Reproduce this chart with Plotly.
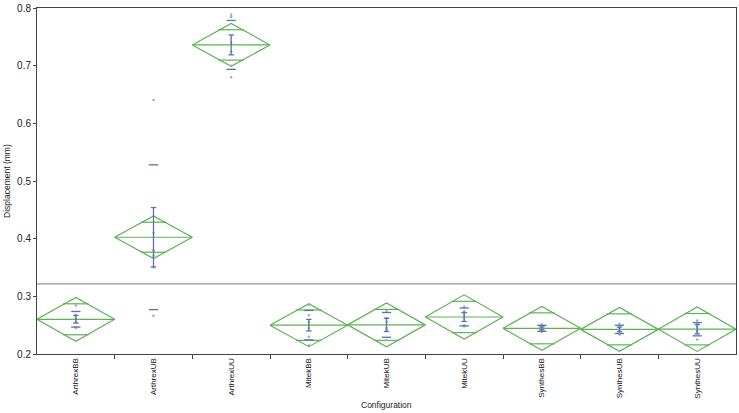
import plotly.graph_objects as go
import math

categories = ["ArthrexBB", "ArthrexUB", "ArthrexUU", "MitekBB", "MitekUB",
              "MitekUU", "SynthesBB", "SynthesUB", "SynthesUU"]
means = [0.2602, 0.4025, 0.7360, 0.2500, 0.2505, 0.2642, 0.2445, 0.2427, 0.2430]
ci_half = [0.0380, 0.0368, 0.0372, 0.0373, 0.0380, 0.0384, 0.0380, 0.0380, 0.0385]
sd = [0.0135, 0.1255, 0.0424, 0.0255, 0.0215, 0.0155, 0.0052, 0.0072, 0.0115]
se = [0.0066, 0.0515, 0.0172, 0.0100, 0.0115, 0.0077, 0.0025, 0.0040, 0.0080]
points = [
    [0.284, 0.268, 0.262, 0.256, 0.246, 0.245],
    [0.6405, 0.41, 0.38, 0.37, 0.35, 0.2665],
    [0.7885, 0.7845, 0.74, 0.725, 0.70, 0.6797],
    [0.285, 0.267, 0.255, 0.245, 0.2297, 0.215],
    [0.2745, 0.262, 0.256, 0.245, 0.242, 0.224],
    [0.282, 0.274, 0.268, 0.262, 0.250, 0.248],
    [0.251, 0.248, 0.245, 0.244, 0.241, 0.238],
    [0.252, 0.247, 0.243, 0.241, 0.239, 0.234],
    [0.258, 0.252, 0.247, 0.240, 0.236, 0.225],
]
grand_mean = 0.3215
y_ticks = [0.2, 0.3, 0.4, 0.5, 0.6, 0.7, 0.8]

GREEN = "rgb(92,178,82)"
BLUE = "rgb(86,114,176)"
GRAY = "rgb(150,150,150)"

fig = go.Figure()

# diamonds
dx, dy = [], []
for i, (m, c) in enumerate(zip(means, ci_half)):
    dx += [i - 0.5, i, i + 0.5, i, i - 0.5, None, i - 0.5, i + 0.5, None]
    dy += [m, m + c, m, m - c, m, None, m, m, None]
    k = 1 / math.sqrt(2)
    hw = 0.5 * (1 - k) * 1.12
    for s in (1, -1):
        dx += [i - hw, i + hw, None]
        dy += [m + s * c * k, m + s * c * k, None]
fig.add_trace(go.Scatter(x=dx, y=dy, mode="lines", line=dict(color=GREEN, width=1.2),
                         hoverinfo="skip", showlegend=False))

# grand mean line
fig.add_trace(go.Scatter(x=[-0.5, len(categories) - 0.5], y=[grand_mean, grand_mean],
                         mode="lines", line=dict(color=GRAY, width=1.2),
                         hoverinfo="skip", showlegend=False))

# points
px, py = [], []
for i, pts in enumerate(points):
    px += [i] * len(pts)
    py += pts
fig.add_trace(go.Scatter(x=px, y=py, mode="markers",
                         marker=dict(color="rgb(165,170,185)", size=2.5),
                         hoverinfo="skip", showlegend=False))

# std dev lines and error bars
bx, by = [], []
for i, (m, s, e) in enumerate(zip(means, sd, se)):
    for v in (m + s, m - s):
        bx += [i - 0.06, i + 0.06, None]
        by += [v, v, None]
    bx += [i, i, None, i - 0.035, i + 0.035, None, i - 0.035, i + 0.035, None]
    by += [m - e, m + e, None, m + e, m + e, None, m - e, m - e, None]
fig.add_trace(go.Scatter(x=bx, y=by, mode="lines", line=dict(color=BLUE, width=1.3),
                         hoverinfo="skip", showlegend=False))

# invisible trace for boundary tick axis
fig.add_trace(go.Scatter(x=[-0.5], y=[0.5], xaxis="x2", mode="markers",
                         marker=dict(opacity=0), hoverinfo="skip", showlegend=False))

n = len(categories)
fig.update_layout(
    width=739, height=413,
    margin=dict(l=37, r=2, t=5, b=59),
    paper_bgcolor="white", plot_bgcolor="white",
    font=dict(family="Liberation Sans, Arial, sans-serif", size=10, color="#222"),
    xaxis=dict(range=[-0.5, n - 0.5], tickmode="array", tickvals=list(range(n)),
               ticktext=categories, tickangle=-90, ticks="", showgrid=False,
               zeroline=False, showline=True, linecolor="#444", linewidth=1,
               mirror=True, tickfont=dict(size=8, color="#111")),
    xaxis2=dict(range=[-0.5, n - 0.5], overlaying="x", side="bottom",
                tickmode="array", tickvals=[i + 0.5 for i in range(n - 1)],
                ticks="outside", ticklen=4, tickcolor="#444", showticklabels=False,
                showgrid=False, zeroline=False, showline=False),
    yaxis=dict(range=[0.2, 0.8], tickmode="array", tickvals=y_ticks,
               ticktext=[f"{v:.1f}" for v in y_ticks], ticks="outside", ticklen=3,
               tickcolor="#444", showgrid=False, zeroline=False, showline=True,
               linecolor="#444", linewidth=1, mirror=True, tickfont=dict(size=10),
               ticklabeloverflow="allow"),
    annotations=[
        dict(text="Displacement (mm)", xref="paper", yref="paper", x=-0.043, y=0.5,
             textangle=-90, showarrow=False, xanchor="center", yanchor="middle",
             font=dict(size=8.5)),
        dict(text="Configuration", xref="paper", yref="paper", x=0.5, y=-0.146,
             showarrow=False, xanchor="center", yanchor="middle", font=dict(size=8.5)),
    ],
)

fig.write_html("out.html", config={"displayModeBar": False},
               post_script="document.body.style.margin='0';document.body.style.padding='0';")
